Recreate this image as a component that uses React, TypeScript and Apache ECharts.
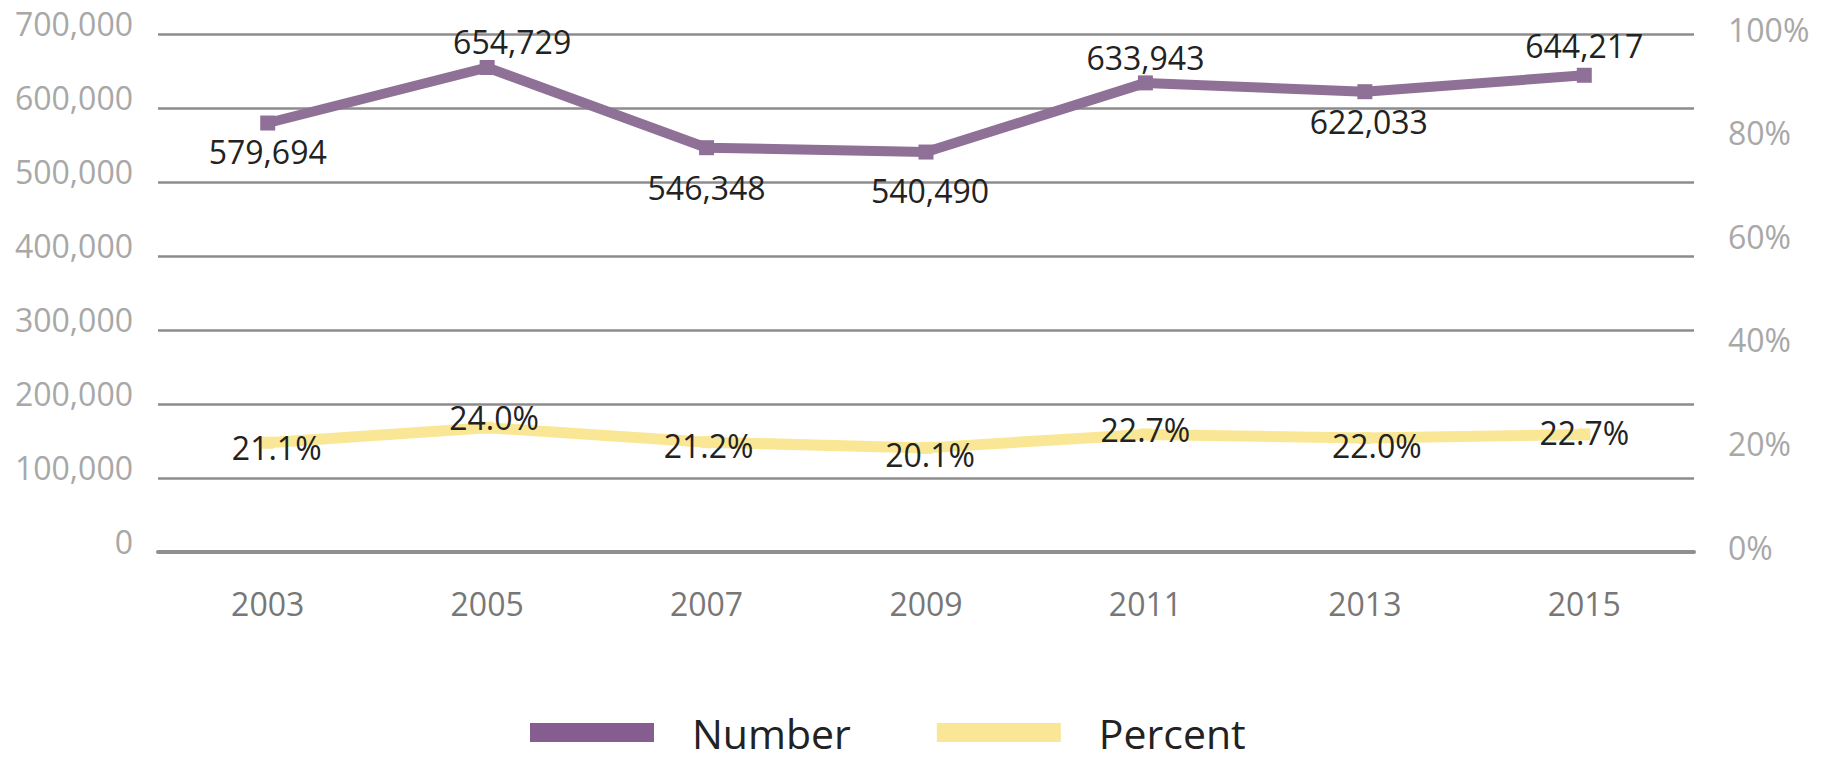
import React, { useEffect, useRef } from "react";
import * as echarts from "echarts";

const years = ["2003", "2005", "2007", "2009", "2011", "2013", "2015"];
const numberValues = [579694, 654729, 546348, 540490, 633943, 622033, 644217];
const percentValues = [21.1, 24.0, 21.2, 20.1, 22.7, 22.0, 22.7];
const leftTicks = { min: 0, max: 700000, interval: 100000 };
const rightTicks = { min: 0, max: 100, interval: 20 };

// label placement (style, not data)
const numberLabelOffsets = [[0, 28], [25, -26], [0, 40], [4, 38], [0, -25], [4, 30], [0, -30]];
const percentLabelOffsets = [[9, 5], [7, -10], [2, 3], [4, 7], [0, -5], [12, 7], [0, -2]];

const PURPLE = "#8f7096";
const PURPLE_LEGEND = "#855d90";
const YELLOW = "#fae796";
const YELLOW_LEGEND = "#f9e797";
const FONT = "Open Sans";

export default function App() {
  const ref = useRef<HTMLDivElement>(null);
  useEffect(() => {
    if (!ref.current) return;
    const chart = echarts.init(ref.current, null, { renderer: "svg" });
    const labelBase = {
      show: true,
      position: "inside",
      fontFamily: FONT,
      fontSize: 32,
      color: "#222222",
    };
    chart.setOption({
      animation: false,
      backgroundColor: "#ffffff",
      grid: { left: 158, right: 131, top: 34, bottom: 206, containLabel: false },
      legend: {
        left: 530,
        top: 712,
        padding: 0,
        itemWidth: 124,
        itemHeight: 19,
        itemGap: 86,
        icon: "rect",
        textStyle: { fontFamily: FONT, fontSize: 41, lineHeight: 40, color: "#222222", padding: [0, 0, 0, 33] },
        data: [
          { name: "Number", icon: "rect", itemStyle: { color: PURPLE_LEGEND } },
          { name: "Percent", icon: "rect", itemStyle: { color: YELLOW_LEGEND } },
        ],
      },
      xAxis: {
        type: "category",
        data: years,
        boundaryGap: true,
        axisTick: { show: false },
        axisLine: { show: true, lineStyle: { color: "#8f8f8f", width: 4 } },
        axisLabel: { fontFamily: FONT, fontSize: 32, color: "#777777", margin: 35 },
        splitLine: { show: false },
      },
      yAxis: [
        {
          type: "value",
          min: leftTicks.min,
          max: leftTicks.max,
          interval: leftTicks.interval,
          axisLine: { show: false },
          axisTick: { show: false },
          splitLine: { show: true, lineStyle: { color: "#8c8c8c", width: 2.5 } },
          axisLabel: {
            fontFamily: FONT,
            fontSize: 32,
            color: "#a8a8a8",
            margin: 25,
            verticalAlign: "bottom",
            lineHeight: 22,
            formatter: (v: number) => v.toLocaleString("en-US"),
          },
        },
        {
          type: "value",
          min: rightTicks.min,
          max: rightTicks.max,
          interval: rightTicks.interval,
          position: "right",
          axisLine: { show: false },
          axisTick: { show: false },
          splitLine: { show: false },
          axisLabel: {
            fontFamily: FONT,
            fontSize: 32,
            color: "#a8a8a8",
            margin: 34,
            verticalAlign: "bottom",
            lineHeight: 10,
            formatter: (v: number) => v + "%",
          },
        },
      ],
      series: [
        {
          name: "Percent",
          type: "line",
          yAxisIndex: 1,
          symbol: "rect",
          symbolSize: 12,
          itemStyle: { color: YELLOW },
          lineStyle: { color: YELLOW, width: 11 },
          z: 2,
          data: percentValues.map((v, i) => ({
            value: v,
            label: { ...labelBase, offset: percentLabelOffsets[i], formatter: (p: any) => Number(p.value).toFixed(1) + "%" },
          })),
        },
        {
          name: "Number",
          type: "line",
          yAxisIndex: 0,
          symbol: "rect",
          symbolSize: 15,
          itemStyle: { color: PURPLE },
          lineStyle: { color: PURPLE, width: 10 },
          z: 3,
          data: numberValues.map((v, i) => ({
            value: v,
            label: { ...labelBase, offset: numberLabelOffsets[i], formatter: (p: any) => Number(p.value).toLocaleString("en-US") },
          })),
        },
      ],
    });
    return () => chart.dispose();
  }, []);
  return (
    <div
      ref={ref}
      style={{ position: "fixed", left: 0, top: 0, width: 1825, height: 758, background: "#fff" }}
    />
  );
}
